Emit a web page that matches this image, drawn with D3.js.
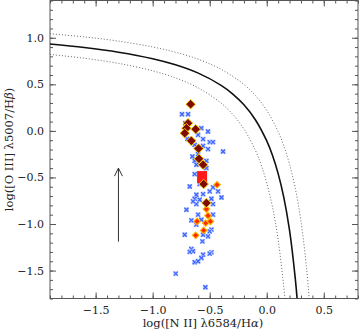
<!DOCTYPE html>
<html><head><meta charset="utf-8">
<script src="https://cdn.jsdelivr.net/npm/d3@7"></script>
<style>body{margin:0;background:#fff}svg{display:block}text{font-family:"DejaVu Serif",serif;fill:#222}</style>
</head><body><svg id="c" width="360" height="332"></svg>
<script>
// ---- data ----
const xTicks = [-1.5, -1.0, -0.5, 0.0, 0.5];
const yTicks = [-1.5, -1.0, -0.5, 0.0, 0.5, 1.0];
const kewleyX = [-1.9,-1.6,-1.3,-1.0,-0.8,-0.6,-0.4,-0.3,-0.2,-0.1,0.0,0.05,0.1,0.15,0.2,0.25,0.266];
const kewleyY = [0.933,0.895,0.845,0.775,0.710,0.620,0.489,0.398,0.280,0.120,-0.108,-0.262,-0.459,-0.716,-1.069,-1.583,-1.800];
const upperX = [-1.9,-1.6,-1.3,-1.0,-0.8,-0.6,-0.4,-0.2,-0.1,0.0,0.1,0.15,0.2,0.25,0.3,0.35,0.372];
const upperY = [1.043,1.009,0.964,0.901,0.845,0.769,0.661,0.498,0.380,0.220,-0.008,-0.162,-0.359,-0.616,-0.969,-1.483,-1.800];
const lowerX = [-1.9,-1.6,-1.3,-1.0,-0.8,-0.6,-0.4,-0.3,-0.2,-0.1,-0.05,0.0,0.05,0.1,0.15,0.159];
const lowerY = [0.821,0.780,0.725,0.645,0.569,0.461,0.298,0.180,0.020,-0.208,-0.362,-0.559,-0.816,-1.169,-1.683,-1.800];
const crossX = [-0.743,-0.690,-0.713,-0.573,-0.515,-0.602,-0.558,-0.500,-0.471,-0.696,-0.632,-0.558,-0.515,
  -0.383,-0.652,-0.632,-0.602,-0.529,-0.617,-0.529,-0.632,-0.675,-0.588,-0.471,-0.500,-0.617,-0.558,-0.632,-0.588,-0.397,-0.485,-0.427,-0.617,-0.471,
  -0.646,-0.704,-0.602,-0.661,-0.573,-0.471,-0.617,-0.485,-0.719,-0.558,-0.564,-0.661,-0.646,-0.558,-0.485,-0.573,-0.500,-0.632,-0.602,-0.798,-0.538,-0.515,-0.500,-0.675];
const crossY = [0.179,0.179,0.082,0.029,-0.007,-0.043,-0.089,-0.121,-0.121,-0.086,-0.150,-0.161,-0.196,
  -0.222,-0.275,-0.322,-0.250,-0.322,-0.364,-0.400,-0.464,-0.597,-0.571,-0.607,-0.650,-0.686,-0.679,-0.729,-0.740,-0.715,-0.729,-0.650,-0.786,-0.786,
  -0.757,-0.847,-0.900,-0.961,-0.954,-0.900,-1.007,-1.061,-1.115,-1.115,-1.186,-1.268,-1.293,-1.329,-1.304,-1.365,-1.318,-1.411,-1.400,-1.533,-1.679,-1.133,-1.080,-1.300];
const darkX = [-0.667,-0.690,-0.704,-0.719,-0.623,-0.661,-0.598,-0.594,-0.558,-0.553,-0.529];
const darkY = [0.286,0.082,0.029,-0.025,0.018,-0.107,-0.190,-0.300,-0.364,-0.571,-0.774];
const orangeX = [-0.436,-0.529,-0.515,-0.535,-0.494,-0.553,-0.623,-0.611];
const orangeY = [-0.579,-0.840,-0.911,-0.990,-0.972,-1.069,-1.122,-0.972];
const meanX = [-0.567];
const meanY = [-0.496];
const arrowX = [-1.3, -1.3];
const arrowY = [-1.19, -0.40];

// ---- layout ----
const svg = d3.select("#c");
const L = 50, R = 358, T = 0.5, B = 298.5;
const x = d3.scaleLinear().domain([-1.9, 0.8]).range([L, R]);
const y = d3.scaleLinear().domain([-1.8, 1.4]).range([B, T]);
const fmt = d3.format(".1f");
const minorX = d3.range(-19, 9).map(d => d / 10);
const minorY = d3.range(-18, 15).map(d => d / 10);

svg.append("defs").append("clipPath").attr("id","clip")
  .append("rect").attr("x",L).attr("y",T).attr("width",R-L).attr("height",B-T);

function styleAxis(g){ g.select(".domain").remove(); g.selectAll("line").attr("stroke","#555"); g.selectAll("text").attr("font-family","DejaVu Serif").attr("font-size",11).attr("fill","#222"); }

// minor ticks
svg.append("g").attr("transform",`translate(0,${B})`).call(d3.axisBottom(x).tickValues(minorX).tickSize(-3).tickFormat("")).call(styleAxis);
svg.append("g").attr("transform",`translate(0,${T})`).call(d3.axisTop(x).tickValues(minorX).tickSize(-3).tickFormat("")).call(styleAxis);
svg.append("g").attr("transform",`translate(${L},0)`).call(d3.axisLeft(y).tickValues(minorY).tickSize(-3).tickFormat("")).call(styleAxis);
svg.append("g").attr("transform",`translate(${R},0)`).call(d3.axisRight(y).tickValues(minorY).tickSize(-3).tickFormat("")).call(styleAxis);
// major ticks
svg.append("g").attr("transform",`translate(0,${B})`).call(d3.axisBottom(x).tickValues(xTicks).tickSize(-6).tickPadding(8).tickFormat(fmt)).call(styleAxis);
svg.append("g").attr("transform",`translate(0,${T})`).call(d3.axisTop(x).tickValues(xTicks).tickSize(-6).tickFormat("")).call(styleAxis);
svg.append("g").attr("transform",`translate(${L},0)`).call(d3.axisLeft(y).tickValues(yTicks).tickSize(-6).tickPadding(6).tickFormat(fmt)).call(styleAxis);
svg.append("g").attr("transform",`translate(${R},0)`).call(d3.axisRight(y).tickValues(yTicks).tickSize(-6).tickFormat("")).call(styleAxis);

svg.append("rect").attr("x",L).attr("y",T).attr("width",R-L).attr("height",B-T)
  .attr("fill","none").attr("stroke","#555").attr("stroke-width",1);

const plot = svg.append("g").attr("clip-path","url(#clip)");
const line = d3.line().x(d => x(d[0])).y(d => y(d[1])).curve(d3.curveCatmullRom);
plot.append("path").datum(d3.zip(upperX, upperY)).attr("d", line).attr("fill","none").attr("stroke","#666").attr("stroke-width",1).attr("stroke-dasharray","1,2");
plot.append("path").datum(d3.zip(lowerX, lowerY)).attr("d", line).attr("fill","none").attr("stroke","#666").attr("stroke-width",1).attr("stroke-dasharray","1,2");
plot.append("path").datum(d3.zip(kewleyX, kewleyY)).attr("d", line).attr("fill","none").attr("stroke","#111").attr("stroke-width",1.6);

// arrow
const ax = x(arrowX[0]), ay0 = y(arrowY[0]), ay1 = y(arrowY[1]);
plot.append("line").attr("x1",ax).attr("x2",ax).attr("y1",ay0).attr("y2",ay1).attr("stroke","#333").attr("stroke-width",1);
plot.append("path").attr("d",`M${ax-4},${ay1+8}L${ax},${ay1}L${ax+4},${ay1+8}`).attr("fill","none").attr("stroke","#333").attr("stroke-width",1);

// blue crosses
const crosses = plot.append("g").selectAll("g").data(d3.zip(crossX, crossY)).join("g")
  .attr("transform", d => `translate(${x(d[0])},${y(d[1])})`);
crosses.append("rect").attr("x",-2.5).attr("y",-2.5).attr("width",5).attr("height",5).attr("fill","#c4d2ff");
crosses.append("path").attr("d","M-2,-2L2,2M-2,2L2,-2").attr("stroke","#3a62ff").attr("stroke-width",1.2);

// mean point
plot.selectAll("rect.mean").data(d3.zip(meanX, meanY)).join("rect").attr("class","mean")
  .attr("x", d => x(d[0]) - 5).attr("y", d => y(d[1]) - 6).attr("width",10).attr("height",12).attr("fill","#ff1a1a");

// diamonds
const diamond = r => `M0,${-r}L${r},0L0,${r}L${-r},0Z`;
plot.append("g").selectAll("path").data(d3.zip(orangeX, orangeY)).join("path")
  .attr("transform", d => `translate(${x(d[0])},${y(d[1])})`).attr("d", diamond(3.3))
  .attr("fill","#ff2a00").attr("stroke","#ffb300").attr("stroke-width",1.1);
plot.append("g").selectAll("path").data(d3.zip(darkX, darkY)).join("path")
  .attr("transform", d => `translate(${x(d[0])},${y(d[1])})`).attr("d", diamond(4.8))
  .attr("fill","#7f0c00").attr("stroke","#ffd400").attr("stroke-width",0.9);

// axis titles
const xt = svg.append("text").attr("x",(L+R)/2 - 1).attr("y",327).attr("text-anchor","middle").attr("font-size",11.5);
xt.append("tspan").text("log([N II] λ6584/H");
xt.append("tspan").attr("font-style","italic").text("α");
xt.append("tspan").text(")");
const yt = svg.append("text").attr("transform",`translate(13,${(T+B)/2}) rotate(-90)`).attr("text-anchor","middle").attr("font-size",11.5);
yt.append("tspan").text("log([O III] λ5007/H");
yt.append("tspan").attr("font-style","italic").text("β");
yt.append("tspan").text(")");
</script></body></html>
